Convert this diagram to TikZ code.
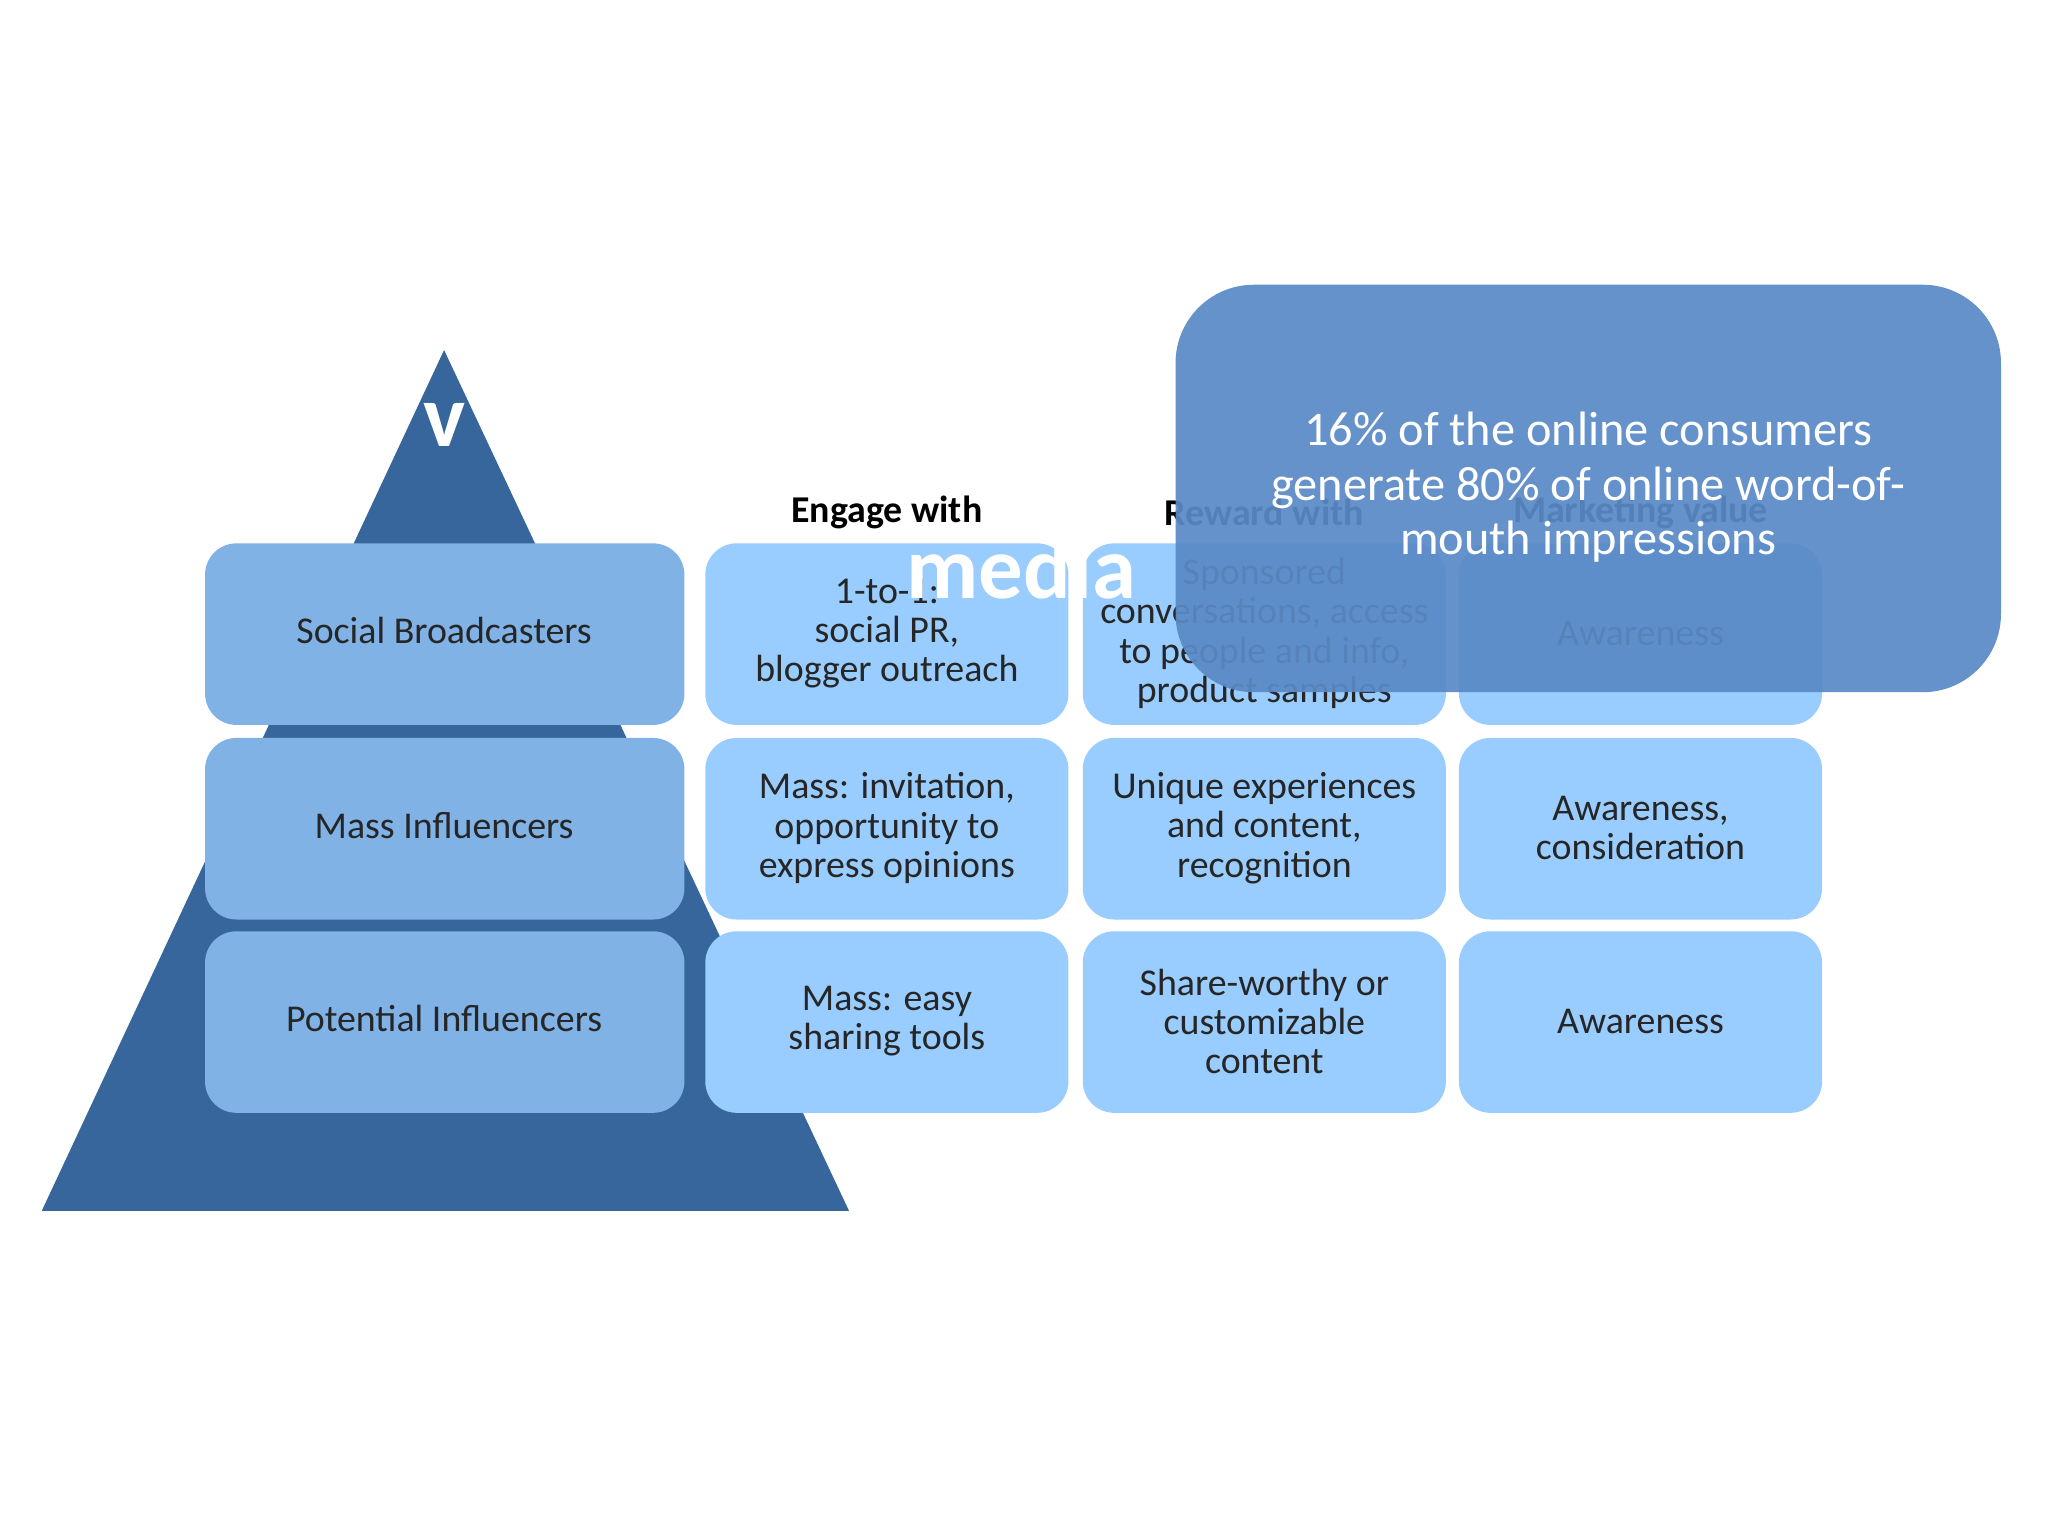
\documentclass[tikz,border=0pt]{standalone}
\usepackage{fontspec}
\setmainfont{Carlito}
\begin{document}
\begin{tikzpicture}[x=0.5pt,y=-0.5pt,
 lbox/.style={fill=lb,rounded corners=12pt,draw=none},
 rbox/.style={fill=rb,rounded corners=12pt,draw=none},
 txt/.style={align=center,font=\fontsize{14.5}{15}\selectfont,text=black!85},
 hdr/.style={font=\bfseries\fontsize{14.5}{15}\selectfont}]
\definecolor{tri}{HTML}{36669C}
\definecolor{lb}{HTML}{80B2E6}
\definecolor{rb}{HTML}{99CCFF}
\definecolor{ov}{HTML}{5A8AC6}
\useasboundingbox (0,0) rectangle (1568,1176);
\fill[white] (0,0) rectangle (1568,1176);
\fill[tri] (340,268) coordinate (apex) -- (32,927) -- (650,927) -- cycle;
\node[text=white,font=\bfseries\fontsize{34}{34}\selectfont] (t1) at (340,325) {v};
% left column
\foreach \n/\y/\t in {a/416/Social Broadcasters,b/565/Mass Influencers,c/713/Potential Influencers}{
 \fill[lbox] (157,\y) rectangle (524,\y+139);
 \node[txt] (\n0) at (340,\y+67) {\t};}
% headers
\node[hdr] (h1) at (679,392) {Engage with};
\node[hdr] (h2) at (968,392) {Reward with};
\node[hdr] (h3) at (1256,392) {Marketing value};
\foreach \x/\c in {540/1,829/2,1117/3}{
 \foreach \y in {416,565,713}{
  \fill[rbox] (\x,\y) rectangle (\x+278,\y+139);}}
\node[txt] (a1) at (679,485) {1-to-1:\\social PR,\\blogger outreach};
\node[txt] (a2) at (968,485) {Sponsored\\conversations, access\\to people and info,\\product samples};
\node[txt] (a3) at (1256,485) {Awareness};
\node[txt] (b1) at (679,634) {Mass: invitation,\\opportunity to\\express opinions};
\node[txt] (b2) at (968,634) {Unique experiences\\and content,\\recognition};
\node[txt] (b3) at (1256,634) {Awareness,\\consideration};
\node[txt] (c1) at (679,782) {Mass: easy\\sharing tools};
\node[txt] (c2) at (968,782) {Share-worthy or\\customizable\\content};
\node[txt] (c3) at (1256,782) {Awareness};
\node[text=white,font=\bfseries\fontsize{34}{34}\selectfont] (t2) at (782,435) {media};
\fill[ov,opacity=0.93,rounded corners=30pt] (900,218) rectangle (1532,530);
\node[text=white,align=center,font=\fontsize{18.5}{21}\selectfont] (ov) at (1216,373) {16\% of the online consumers\\generate 80\% of online word-of-\\mouth impressions};
\end{tikzpicture}
\end{document}
